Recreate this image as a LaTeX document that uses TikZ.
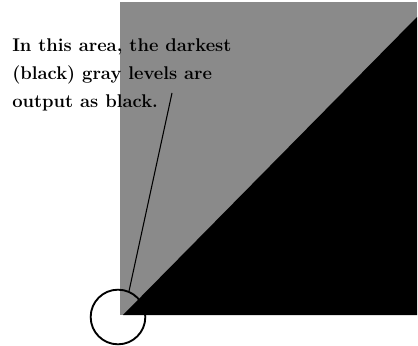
\documentclass[tikz,border=0pt]{standalone}
\usepackage{tikz}

\begin{document}
\begin{tikzpicture}[x=0.75pt,y=-0.75pt,every node/.style={font=\bfseries\fontsize{13.8}{21}\selectfont}]
  \definecolor{midgray}{HTML}{8A8A8A}
  \useasboundingbox (0,0) rectangle (418,346);
  \fill[midgray] (120,2) rectangle (417,315);
  \fill[black] (123,315) -- (417,17) -- (417,315) -- cycle;
  \node[align=left,anchor=north west,inner sep=0pt] (note) at (12,38)
    {In this area, the darkest\\(black) gray levels are\\output as black.};
  \node[draw,circle,line width=1.4pt,minimum size=41pt,inner sep=0pt] (zone) at (118,317) {};
  \coordinate (tip) at (172,93);
  \draw[line width=0.8pt] (tip) -- (zone.67);
\end{tikzpicture}
\end{document}
